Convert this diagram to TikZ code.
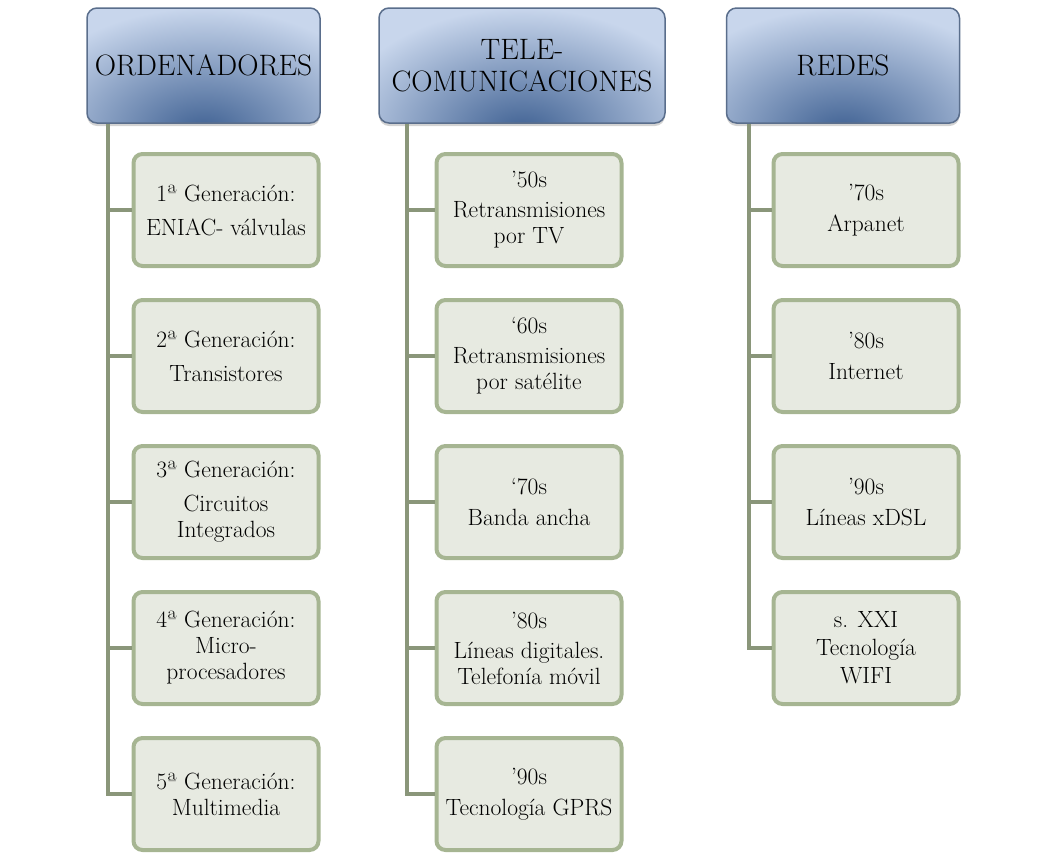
\documentclass[tikz,border=0pt]{standalone}
\usepackage{fontspec}
\usetikzlibrary{positioning,shadows}

\definecolor{hdrtop}{RGB}{200,214,236}
\definecolor{hdrdark}{RGB}{62,96,146}
\definecolor{hdrline}{RGB}{90,110,140}
\definecolor{itemfill}{RGB}{231,234,225}
\definecolor{itemline}{RGB}{166,181,146}
\definecolor{branchline}{RGB}{138,150,122}

\begin{document}
\begin{tikzpicture}[x=1pt, y=-1pt]
    \tikzstyle{head} = [draw=hdrline, line width=1.5pt, rounded corners=10pt,
      minimum width=233pt, minimum height=115pt, inner sep=0pt, align=center,
      font=\fontsize{29.5}{32}\selectfont,
      drop shadow={shadow xshift=0pt, shadow yshift=-3pt, opacity=0.35},
      path picture={
        \fill[hdrtop] (path picture bounding box.south west) rectangle (path picture bounding box.north east);
        \shade[inner color=hdrdark, outer color=hdrtop] ([yshift=-10pt]path picture bounding box.south) ellipse (190pt and 125pt);
      }]
    \tikzstyle{item} = [draw=itemline, fill=itemfill, line width=4pt, rounded corners=9pt,
      minimum width=185pt, minimum height=112pt, inner sep=0pt, align=center,
      font=\fontsize{23.5}{26}\selectfont]
    \tikzstyle{branch} = [draw=branchline, line width=4pt]
    \useasboundingbox (0,0) rectangle (1045,857);

    \node[head] (ord) at (203.5,65.5) {ORDENADORES};
    \node[head, minimum width=286pt] (tele) at (522,65.5) {TELE-\\COMUNICACIONES};
    \node[head] (redes) at (843,65.5) {REDES};

    \node[item] (o1) at (226,210) {1ª Generación:\\[8pt]ENIAC- válvulas};
    \node[item, below=30pt of o1] (o2) {2ª Generación:\\[8pt]Transistores};
    \node[item, below=30pt of o2] (o3) {3ª Generación:\\[8pt]Circuitos\\Integrados};
    \node[item, below=30pt of o3] (o4) {4ª Generación:\\Micro-\\procesadores};
    \node[item, below=30pt of o4] (o5) {5ª Generación:\\Multimedia};

    \node[item] (t1) at (529,210) {’50s\\[4pt]Retransmisiones\\por TV};
    \node[item, below=30pt of t1] (t2) {‘60s\\[4pt]Retransmisiones\\por satélite};
    \node[item, below=30pt of t2] (t3) {‘70s\\[5pt]Banda ancha};
    \node[item, below=30pt of t3] (t4) {’80s\\[4pt]Líneas digitales.\\Telefonía móvil};
    \node[item, below=30pt of t4] (t5) {’90s\\[5pt]Tecnología GPRS};

    \node[item] (r1) at (866,210) {’70s\\[5pt]Arpanet};
    \node[item, below=30pt of r1] (r2) {’80s\\[5pt]Internet};
    \node[item, below=30pt of r2] (r3) {’90s\\[5pt]Líneas xDSL};
    \node[item, below=30pt of r3] (r4) {s. XXI\\[2pt]Tecnología\\[2pt]WIFI};

    \coordinate (ordspine) at ([xshift=22pt]ord.south west);
    \coordinate (telespine) at ([xshift=29pt]tele.south west);
    \coordinate (redesspine) at ([xshift=23pt]redes.south west);

    \draw[branch] (ordspine) |- (o1.west);
    \draw[branch] (ordspine) |- (o2.west);
    \draw[branch] (ordspine) |- (o3.west);
    \draw[branch] (ordspine) |- (o4.west);
    \draw[branch] (ordspine) |- (o5.west);

    \draw[branch] (telespine) |- (t1.west);
    \draw[branch] (telespine) |- (t2.west);
    \draw[branch] (telespine) |- (t3.west);
    \draw[branch] (telespine) |- (t4.west);
    \draw[branch] (telespine) |- (t5.west);

    \draw[branch] (redesspine) |- (r1.west);
    \draw[branch] (redesspine) |- (r2.west);
    \draw[branch] (redesspine) |- (r3.west);
    \draw[branch] (redesspine) |- (r4.west);
\end{tikzpicture}
\end{document}
